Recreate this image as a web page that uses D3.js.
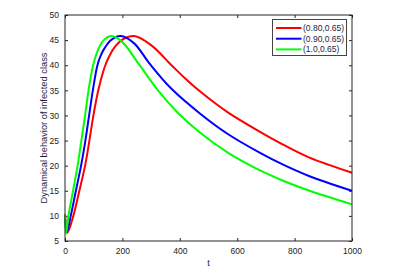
<!DOCTYPE html>
<html>
<head>
<meta charset="utf-8">
<script src="https://cdn.jsdelivr.net/npm/d3@7"></script>
<style>
  body { margin: 0; background: #fff; }
  svg { display: block; font-family: "Liberation Sans", Arial, sans-serif; }
</style>
</head>
<body>
<div id="chart"></div>
<script>
// values
const seriesNames = ["(0.80,0.65)", "(0.90,0.65)", "(1.0,0.65)"]
const seriesColors = ["#ff0000", "#0000ff", "#00ff00"]

const tRed = [0, 9, 29, 50, 70, 85, 99, 116, 138, 155, 173, 200, 241, 300, 371, 420, 470, 570, 678, 760, 852, 1000]
const yRed = [10.3, 6.7, 10, 15, 20, 25, 30, 35, 39.6, 41.9, 43.6, 45.1, 45.8, 44.0, 40, 37.3, 34.8, 30.5, 26.8, 24.2, 21.6, 18.6]

const tBlue = [0, 6, 20, 38, 56, 71, 84, 97, 113, 125, 138, 160, 194, 240, 295, 371, 470, 570, 678, 760, 852, 1000]
const yBlue = [10.1, 6.6, 10, 15, 20, 25, 30, 35, 40, 42.0, 43.4, 45.0, 45.8, 44.4, 40.3, 35.3, 30.4, 26.2, 22.6, 20.2, 17.9, 15.0]

const tGreen = [0, 4, 12, 29, 44, 57, 70, 82, 98, 117, 135, 161, 200, 255, 324, 394, 470, 570, 678, 760, 852, 1000]
const yGreen = [10.2, 6.5, 10, 15.3, 20, 25, 30, 35, 40, 43.3, 45, 45.8, 44.6, 40.4, 35.0, 30.5, 26.6, 22.5, 19.1, 17.0, 15.0, 12.3]

const xTicks = [0, 200, 400, 600, 800, 1000]
const yTicks = [5, 10, 15, 20, 25, 30, 35, 40, 45, 50]

const series = [
    { name: seriesNames[0], color: seriesColors[0], t: tRed, y: yRed },
    { name: seriesNames[1], color: seriesColors[1], t: tBlue, y: yBlue },
    { name: seriesNames[2], color: seriesColors[2], t: tGreen, y: yGreen },
]

const width = 406
const height = 275
const margin = { left: 65, right: 54, top: 15, bottom: 34 }
const w = width - margin.left - margin.right
const h = height - margin.top - margin.bottom

const svg = d3.select('#chart')
    .append('svg')
        .attr('width', width)
        .attr('height', height)

const chart = svg.append('g')
    .attr('transform', 'translate(' + margin.left + ',' + margin.top + ')')

const xScale = d3.scaleLinear().domain([0, 1000]).range([0, w])
const yScale = d3.scaleLinear().domain([5, 50]).range([h, 0])

const axisColor = '#262626'
const tickLen = 3

function styleAxis(g, showLabels) {
    g.select('.domain').remove()
    g.selectAll('.tick line').attr('stroke', axisColor)
    g.selectAll('.tick text')
        .attr('fill', '#222')
        .style('font-size', '8.5px')
    if (!showLabels) g.selectAll('.tick text').remove()
}

// bottom & left with labels, top & right ticks only (all ticks inward)
chart.append('g')
    .attr('transform', 'translate(0,' + h + ')')
    .call(d3.axisBottom(xScale).tickValues(xTicks).tickFormat(d3.format('d'))
        .tickSizeInner(-tickLen).tickSizeOuter(0).tickPadding(7))
    .call(g => styleAxis(g, true))

chart.append('g')
    .call(d3.axisTop(xScale).tickValues(xTicks).tickSizeInner(-tickLen).tickSizeOuter(0))
    .call(g => styleAxis(g, false))

chart.append('g')
    .call(d3.axisLeft(yScale).tickValues(yTicks).tickSizeInner(-tickLen).tickSizeOuter(0).tickPadding(6))
    .call(g => styleAxis(g, true))

chart.append('g')
    .attr('transform', 'translate(' + w + ',0)')
    .call(d3.axisRight(yScale).tickValues(yTicks).tickSizeInner(-tickLen).tickSizeOuter(0))
    .call(g => styleAxis(g, false))

const line = d3.line()
    .x(d => xScale(d[0]))
    .y(d => yScale(d[1]))
    .curve(d3.curveCatmullRom.alpha(0.5))

chart.append('g')
    .selectAll('path')
    .data(series)
    .enter()
    .append('path')
        .attr('d', s => line(s.t.map((t, i) => [t, s.y[i]])))
        .attr('fill', 'none')
        .attr('stroke', s => s.color)
        .attr('stroke-width', 2)

// frame
chart.append('rect')
    .attr('x', 0)
    .attr('y', 0)
    .attr('width', w)
    .attr('height', h)
    .attr('fill', 'none')
    .attr('stroke', axisColor)
    .attr('stroke-width', 1)

// axis titles
svg.append('text')
    .attr('x', margin.left + w / 2)
    .attr('y', 266)
    .attr('text-anchor', 'middle')
    .attr('fill', '#222')
    .style('font-size', '9px')
    .text('t')

svg.append('text')
    .attr('transform', 'translate(47,' + (margin.top + h / 2) + ') rotate(-90)')
    .attr('text-anchor', 'middle')
    .attr('fill', '#1e1e3c')
    .style('font-size', '9.3px')
    .text('Dynamical behavior of infected class')

// legend
const legend = svg.append('g').attr('transform', 'translate(272.5,19.5)')

legend.append('rect')
    .attr('width', 74)
    .attr('height', 36)
    .attr('fill', '#fff')
    .attr('stroke', '#444')
    .attr('stroke-width', 1)

const item = legend.selectAll('g.item')
    .data(series)
    .enter()
    .append('g')
        .attr('class', 'item')
        .attr('transform', (s, i) => 'translate(0,' + (8.5 + i * 10.7) + ')')

item.append('line')
    .attr('x1', 3.5)
    .attr('x2', 29)
    .attr('stroke', s => s.color)
    .attr('stroke-width', 2)

item.append('text')
    .attr('x', 30.5)
    .attr('dy', '0.35em')
    .attr('fill', '#1e1e3c')
    .style('font-size', '8.5px')
    .text(s => s.name)
</script>
</body>
</html>
